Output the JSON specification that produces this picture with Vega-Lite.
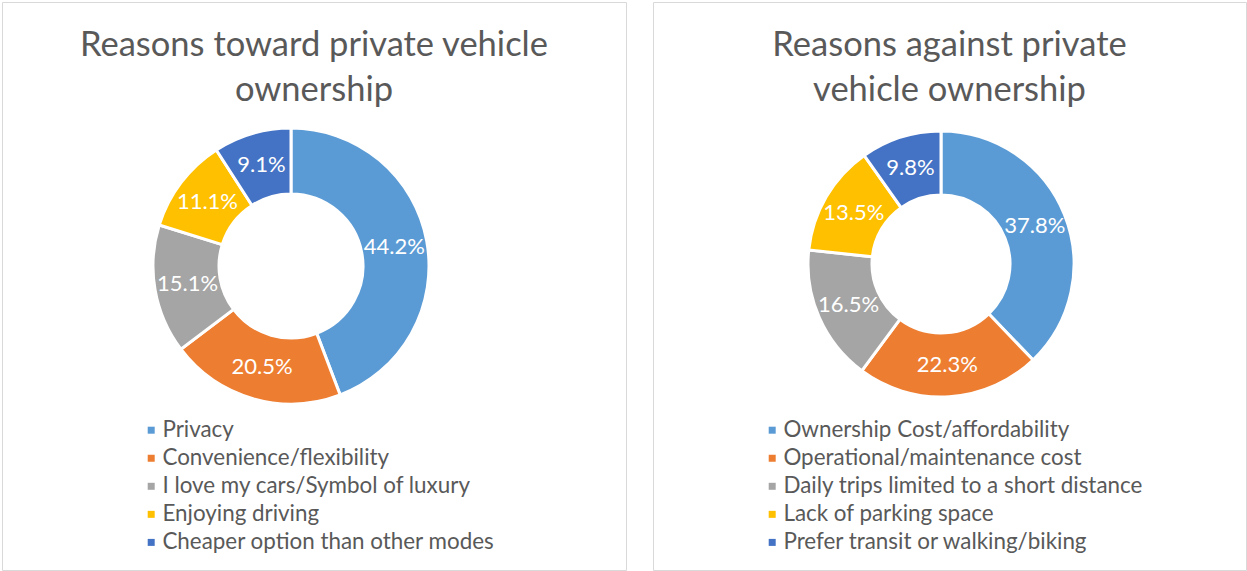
{
  "$schema": "https://vega.github.io/schema/vega-lite/v6.json",
  "padding": {"left": 1, "top": 1, "right": 0, "bottom": 0},
  "background": "white",
  "config": {
    "view": {"stroke": "#D9D9D9", "strokeWidth": 1},
    "font": "Lato",
    "title": {"fontSize": 34.5, "color": "#595959", "fontWeight": "normal", "anchor": "middle", "offset": -106, "lineHeight": 45, "font": "Lato"},
    "legend": {"orient": "none", "title": null, "symbolType": "square", "symbolSize": 49, "symbolStrokeWidth": 0, "labelFontSize": 22.4, "labelColor": "#595959", "labelFont": "Lato", "rowPadding": 5.05, "labelOffset": 0, "labelLimit": 600}
  },
  "datasets": {
    "toward": [
      {"reason": "Privacy", "pct": 0.442, "k": 1},
      {"reason": "Convenience/flexibility", "pct": 0.205, "k": 2},
      {"reason": "I love my cars/Symbol of luxury", "pct": 0.151, "k": 3},
      {"reason": "Enjoying driving", "pct": 0.111, "k": 4},
      {"reason": "Cheaper option than other modes", "pct": 0.091, "k": 5}
    ],
    "against": [
      {"reason": "Ownership Cost/affordability", "pct": 0.378, "k": 1},
      {"reason": "Operational/maintenance cost", "pct": 0.223, "k": 2},
      {"reason": "Daily trips limited to a short distance", "pct": 0.165, "k": 3},
      {"reason": "Lack of parking space", "pct": 0.135, "k": 4},
      {"reason": "Prefer transit or walking/biking", "pct": 0.098, "k": 5}
    ]
  },
  "spacing": 25,
  "resolve": {"scale": {"color": "independent", "theta": "independent"}, "legend": {"color": "independent"}},
  "hconcat": [
    {
      "width": 624,
      "height": 568,
      "view": {"stroke": "#D9D9D9", "strokeWidth": 1, "fill": "white"},
      "data": {"name": "toward"},
      "title": {"text": ["Reasons toward private vehicle", "ownership"]},
      "encoding": {
        "theta": {"field": "pct", "type": "quantitative", "stack": true},
        "order": {"field": "k", "type": "quantitative"}
      },
      "layer": [
        {
          "mark": {"type": "arc", "innerRadius": 72, "outerRadius": 138, "stroke": "white", "strokeWidth": 3, "x": 289, "y": 264},
          "encoding": {
            "color": {
              "field": "reason", "type": "nominal",
              "scale": {"domain": ["Privacy", "Convenience/flexibility", "I love my cars/Symbol of luxury", "Enjoying driving", "Cheaper option than other modes"], "range": ["#5B9BD5", "#ED7D31", "#A5A5A5", "#FFC000", "#4472C4"]},
              "legend": {"legendX": 138, "legendY": 417}
            }
          }
        },
        {
          "mark": {"type": "text", "radius": 105, "fontSize": 22, "font": "Lato", "x": 289, "y": 264},
          "encoding": {
            "text": {"field": "pct", "type": "quantitative", "format": ".1%"},
            "color": {"value": "white"}
          }
        }
      ]
    },
    {
      "width": 593,
      "height": 568,
      "view": {"stroke": "#D9D9D9", "strokeWidth": 1, "fill": "white"},
      "data": {"name": "against"},
      "title": {"text": ["Reasons against private", "vehicle ownership"]},
      "encoding": {
        "theta": {"field": "pct", "type": "quantitative", "stack": true},
        "order": {"field": "k", "type": "quantitative"}
      },
      "layer": [
        {
          "mark": {"type": "arc", "innerRadius": 69, "outerRadius": 133, "stroke": "white", "strokeWidth": 3, "x": 288, "y": 262},
          "encoding": {
            "color": {
              "field": "reason", "type": "nominal",
              "scale": {"domain": ["Ownership Cost/affordability", "Operational/maintenance cost", "Daily trips limited to a short distance", "Lack of parking space", "Prefer transit or walking/biking"], "range": ["#5B9BD5", "#ED7D31", "#A5A5A5", "#FFC000", "#4472C4"]},
              "legend": {"legendX": 108, "legendY": 417}
            }
          }
        },
        {
          "mark": {"type": "text", "radius": 101, "fontSize": 22, "font": "Lato", "x": 288, "y": 262},
          "encoding": {
            "text": {"field": "pct", "type": "quantitative", "format": ".1%"},
            "color": {"value": "white"}
          }
        }
      ]
    }
  ]
}
